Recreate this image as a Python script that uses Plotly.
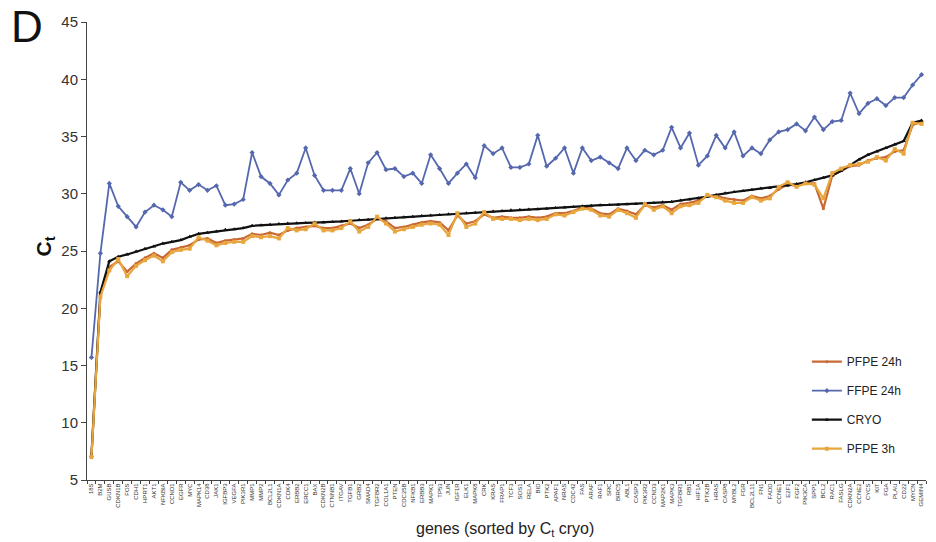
import plotly.graph_objects as go

genes = [
    "18S", "B2M", "GUSB", "CDKN1B", "FOS", "CDH1", "HPRT1", "AKT1", "NFKBIA", "CCND1",
    "EGFR", "MYC", "MAPK14", "CD38", "JAK1", "IGFBP3", "VEGFA", "PIK3R1", "MMP1", "MMP2",
    "BCL2L1", "CDKN1A", "CDK4", "ERBB2", "ERCC1", "BAX", "CDKN2B", "CTNNB1", "ITGAV", "TGFB1",
    "GRB2", "SMAD4", "TGFBR2", "COL1A1", "PTEN", "CDC25B", "NFKB1", "ERBB3", "MAPK1", "TP53",
    "JUN", "IGF1R", "ELK1", "MAPK8", "CRK", "KRAS", "FRAP1", "TCF3", "SOS1", "RELA",
    "BID", "PTK2", "APAF1", "NRAS", "CDC42", "FAS", "ARAF", "RAF1", "SRC", "BIRC5",
    "ABL1", "CASP3", "PIK3R2", "CCND3", "MAP2K1", "MAPK3", "TGFBR1", "RB1", "HIF1A", "PTK2B",
    "HRAS", "CASP8", "MYBL2", "FGR", "BCL2L11", "FN1", "FADD", "CCNE1", "E2F1", "FGF2",
    "PIK3CA", "SPP1", "BCL2", "RAC1", "FASLG", "CDKN2A", "CCNE2", "CYCS", "KIT", "FGA",
    "PLAU", "CD22", "MYCN", "GEMIN4",
]

pfpe_24h = [
    7.2, 21.2, 23.6, 24.1, 23.2, 23.9, 24.4, 24.8, 24.4, 25.1,
    25.3, 25.5, 26.0, 26.1, 25.7, 25.9, 26.0, 26.1, 26.5, 26.4,
    26.6, 26.4, 26.8, 27.0, 27.1, 27.2, 27.0, 27.0, 27.2, 27.4,
    27.0, 27.3, 27.8, 27.6, 27.0, 27.1, 27.3, 27.5, 27.6, 27.5,
    26.8, 28.1, 27.4, 27.6, 28.2, 27.9, 28.0, 27.9, 27.9, 28.0,
    27.9, 28.0, 28.3, 28.3, 28.5, 28.8, 28.7, 28.3, 28.2, 28.7,
    28.5, 28.2, 29.0, 28.8, 29.0, 28.6, 29.1, 29.2, 29.4, 29.8,
    29.8, 29.6, 29.5, 29.4, 29.8, 29.6, 29.8, 30.4, 30.8, 30.7,
    30.9, 30.9, 28.7, 31.6, 32.0, 32.4, 32.5, 32.9, 33.1, 33.2,
    33.7, 33.8, 36.0, 36.3,
]

ffpe_24h = [
    15.7, 24.8, 30.9, 28.9, 28.0, 27.1, 28.4, 29.0, 28.6, 28.0,
    31.0, 30.3, 30.8, 30.3, 30.7, 29.0, 29.1, 29.5, 33.6, 31.5,
    30.9, 29.9, 31.2, 31.8, 34.0, 31.6, 30.3, 30.3, 30.3, 32.2,
    30.0, 32.7, 33.6, 32.1, 32.2, 31.5, 31.8, 30.9, 33.4, 32.2,
    30.9, 31.8, 32.6, 31.4, 34.2, 33.5, 34.0, 32.3, 32.3, 32.6,
    35.1, 32.4, 33.1, 34.0, 31.8, 34.0, 32.9, 33.2, 32.7, 32.2,
    34.0, 32.9, 33.8, 33.4, 33.8, 35.8, 34.0, 35.3, 32.5, 33.3,
    35.1, 34.0, 35.4, 33.3, 34.0, 33.5, 34.7, 35.4, 35.6, 36.1,
    35.5, 36.7, 35.6, 36.3, 36.4, 38.8, 37.0, 37.9, 38.3, 37.7,
    38.4, 38.4, 39.5, 40.4,
]

cryo = [
    7.1, 21.4, 24.1, 24.5, 24.7, 24.95, 25.2, 25.4, 25.65, 25.8,
    25.95, 26.25, 26.5, 26.6, 26.7, 26.85, 26.9, 27.0, 27.2, 27.25,
    27.3, 27.35, 27.4, 27.42, 27.45, 27.48, 27.5, 27.53, 27.58, 27.64,
    27.7, 27.74, 27.78, 27.85, 27.9, 27.95, 28.0, 28.05, 28.1, 28.15,
    28.2, 28.25, 28.3, 28.35, 28.4, 28.45, 28.5, 28.55, 28.6, 28.62,
    28.65, 28.7, 28.75, 28.8, 28.85, 28.9, 28.95, 29.0, 29.02, 29.05,
    29.08, 29.1, 29.15, 29.2, 29.25, 29.3, 29.4, 29.5, 29.6, 29.75,
    29.9, 30.05, 30.15, 30.25, 30.35, 30.45, 30.5, 30.6, 30.7, 30.85,
    31.0, 31.2, 31.4, 31.6, 32.0, 32.5, 33.0, 33.4, 33.7, 34.0,
    34.3, 34.6, 36.2, 36.4,
]

pfpe_3h = [
    7.0, 21.0, 23.3, 24.3, 22.8, 23.7, 24.2, 24.6, 24.1, 24.9,
    25.1, 25.2, 26.2, 25.9, 25.5, 25.7, 25.8, 25.8, 26.3, 26.2,
    26.3, 26.1, 27.0, 26.8, 26.9, 27.4, 26.8, 26.8, 27.0, 27.6,
    26.7, 27.1, 28.0, 27.4, 26.7, 26.9, 27.1, 27.3, 27.4, 27.3,
    26.4, 28.3, 27.1, 27.4, 28.4, 27.8, 27.8, 27.8, 27.7, 27.8,
    27.7, 27.8, 28.2, 28.1, 28.4, 28.7, 28.6, 28.1, 28.0, 28.6,
    28.3, 27.9, 29.1, 28.6, 28.9, 28.3, 28.9, 29.0, 29.2, 29.9,
    29.7, 29.4, 29.2, 29.2, 29.7, 29.4, 29.6, 30.6, 31.0, 30.6,
    30.9, 30.8, 29.6, 31.8, 32.2, 32.5, 32.6, 32.8, 33.2, 32.9,
    33.9, 33.5, 36.2, 36.1,
]

series = [
    ("PFPE 24h", pfpe_24h, "#c96a35", "circle", 3, 2.2),
    ("FFPE 24h", ffpe_24h, "#5568ae", "diamond", 4, 1.8),
    ("CRYO", cryo, "#111111", "triangle-up", 4, 2.2),
    ("PFPE 3h", pfpe_3h, "#e8a63e", "square", 4, 2.2),
]

fig = go.Figure()
for i, (name, vals, color, sym, msize, lw) in enumerate(series):
    fig.add_trace(go.Scatter(
        x=genes, y=vals, name=name, mode="lines+markers",
        line=dict(color=color, width=lw),
        marker=dict(symbol=sym, size=msize, color=color),
        legendgroup=f"g{i}",
    ))

fig.update_layout(
    width=936, height=542,
    margin=dict(l=87, r=10, t=22, b=62, autoexpand=False),
    paper_bgcolor="white", plot_bgcolor="white",
    font=dict(family="Liberation Sans, Arial, sans-serif", color="#222"),
    showlegend=True,
    legend=dict(
        x=0.858, y=0.29, xanchor="left", yanchor="top",
        bgcolor="rgba(0,0,0,0)", font=dict(size=12, color="#222"),
        tracegroupgap=10, itemwidth=30,
    ),
    xaxis=dict(
        type="category", range=[-0.5, len(genes) - 0.5],
        showline=True, linecolor="#444", linewidth=1,
        ticks="outside", tickson="boundaries", ticklen=3, tickcolor="#444",
        tickangle=-90, tickfont=dict(size=6, color="#333"),
        tickmode="array", tickvals=genes, ticktext=genes,
        showgrid=False, zeroline=False, automargin=False,
    ),
    yaxis=dict(
        range=[5, 45], dtick=5, tick0=5,
        showline=True, linecolor="#444", linewidth=1,
        ticks="outside", ticklen=5, tickcolor="#444",
        tickfont=dict(size=15, color="#333"),
        showgrid=False, zeroline=False, automargin=False,
    ),
    annotations=[
        dict(text="D", xref="paper", yref="paper", x=-0.0715, y=480 / 458,
             xanchor="center", yanchor="top", showarrow=False,
             font=dict(size=44, color="#111")),
        dict(text="<b>C<sub>t</sub></b>", xref="paper", yref="paper", x=-0.05, y=0.51,
             xanchor="center", yanchor="middle", showarrow=False, textangle=-90,
             font=dict(size=21, color="#111")),
        dict(text="genes (sorted by C<sub>t</sub> cryo)", xref="paper", yref="paper",
             x=0.498, y=-0.109, xanchor="center", yanchor="middle", showarrow=False,
             font=dict(size=16, color="#222")),
    ],
)

fig.write_html("out.html", config={"displayModeBar": False},
               post_script="document.body.style.margin='0';")
